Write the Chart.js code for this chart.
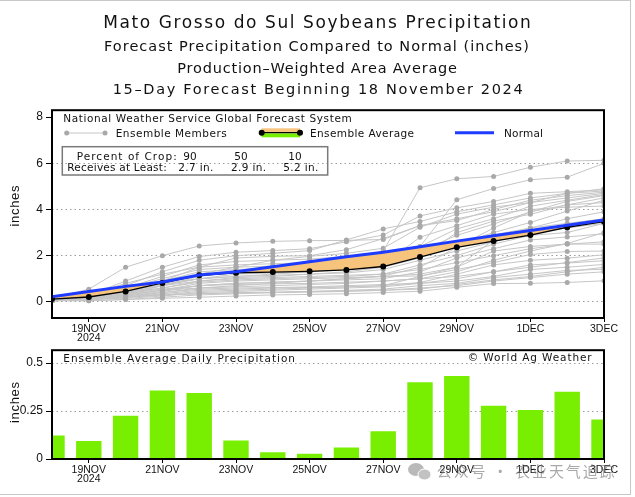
<!DOCTYPE html>
<html><head><meta charset="utf-8">
<script src="https://cdn.jsdelivr.net/npm/chart.js@4.4.1/dist/chart.umd.min.js"></script>
<style>
html,body{margin:0;padding:0;background:#fff;}
#wrap{position:relative;width:635px;height:497px;overflow:hidden;background:#fff;}
#topc{position:absolute;left:0;top:100px;}
#botc{position:absolute;left:0;top:340px;}
#ov{position:absolute;left:0;top:0;}
#edge{position:absolute;left:-3px;top:0;width:634px;height:495px;border:1.5px solid #c8c8c8;box-sizing:border-box;}
</style></head>
<body>
<div id="wrap">
<div id="edge"></div>
<canvas id="topc" width="635" height="246" style="width:635px;height:246px"></canvas>
<canvas id="botc" width="635" height="157" style="width:635px;height:157px"></canvas>
<svg id="ov" width="635" height="497" xmlns="http://www.w3.org/2000/svg">
 <g font-family="DejaVu Sans, sans-serif" fill="#111">
  <text x="103.3" y="27.7" font-size="17" textLength="427.5" lengthAdjust="spacing">Mato Grosso do Sul Soybeans Precipitation</text>
  <text x="104" y="51" font-size="14.5" textLength="424.8" lengthAdjust="spacing">Forecast Precipitation Compared to Normal (inches)</text>
  <text x="177.3" y="73.3" font-size="14.5" textLength="279.7" lengthAdjust="spacing">Production–Weighted Area Average</text>
  <text x="112.7" y="94.3" font-size="14.5" textLength="410" lengthAdjust="spacing">15–Day Forecast Beginning 18 November 2024</text>

  <text x="63.3" y="121.7" font-size="10.5" textLength="288.4" lengthAdjust="spacing">National Weather Service Global Forecast System</text>
  <text x="115.7" y="136.7" font-size="10.5" textLength="111" lengthAdjust="spacing">Ensemble Members</text>
  <text x="310" y="136.7" font-size="10.5" textLength="104" lengthAdjust="spacing">Ensemble Average</text>
  <text x="504" y="136.7" font-size="10.5" textLength="39" lengthAdjust="spacing">Normal</text>

  <text x="76.7" y="160" font-size="10.5" textLength="100" lengthAdjust="spacing">Percent of Crop:</text>
  <text x="190" y="160" font-size="10.5" text-anchor="middle">90</text>
  <text x="241" y="160" font-size="10.5" text-anchor="middle">50</text>
  <text x="295" y="160" font-size="10.5" text-anchor="middle">10</text>
  <text x="67.3" y="171" font-size="10.5" textLength="99.4" lengthAdjust="spacing">Receives at Least:</text>
  <text x="178.3" y="171" font-size="10.5" textLength="35" lengthAdjust="spacing">2.7 in.</text>
  <text x="231" y="171" font-size="10.5" textLength="35" lengthAdjust="spacing">2.9 in.</text>
  <text x="283.3" y="171" font-size="10.5" textLength="35" lengthAdjust="spacing">5.2 in.</text>

  <text x="63.3" y="361.7" font-size="10.5" textLength="231.7" lengthAdjust="spacing">Ensemble Average Daily Precipitation</text>
  <text x="467.7" y="360.7" font-size="10.5" textLength="124" lengthAdjust="spacing">© World Ag Weather</text>
 </g>
 <g font-family="Liberation Sans, Arial, sans-serif" fill="#111" font-size="13">
  <text transform="translate(18.5,206) rotate(-90)" text-anchor="middle" textLength="41" lengthAdjust="spacing">inches</text>
  <text transform="translate(18.5,402.5) rotate(-90)" text-anchor="middle" textLength="41" lengthAdjust="spacing">inches</text>
 </g>
 <!-- legend graphics -->
 <line x1="66.7" y1="133" x2="105" y2="133" stroke="#c6c6c6" stroke-width="1"/>
 <circle cx="66.7" cy="133" r="2.5" fill="#a9a9a9"/>
 <circle cx="105" cy="133" r="2.5" fill="#a9a9a9"/>
 <rect x="261.7" y="128.3" width="38.3" height="3.8" fill="#f6c47c"/>
 <rect x="261.7" y="133.4" width="38.3" height="3.9" fill="#76ee00"/>
 <line x1="261.7" y1="132.7" x2="300" y2="132.7" stroke="#000" stroke-width="1.3"/>
 <circle cx="261.7" cy="132.7" r="3" fill="#000"/>
 <circle cx="300" cy="132.7" r="3" fill="#000"/>
 <line x1="455" y1="132.7" x2="494" y2="132.7" stroke="#1e3cff" stroke-width="3"/>
 <rect x="62.3" y="146.7" width="265.4" height="28.3" fill="none" stroke="#7a7a7a" stroke-width="1.5"/>
 <!-- watermark -->
 <g opacity="0.6">
  <ellipse cx="416" cy="469.5" rx="8" ry="6.5" fill="#8a8a8a"/>
  <ellipse cx="424.5" cy="474.5" rx="6.5" ry="5.5" fill="#9a9a9a" stroke="#fff" stroke-width="1"/>
  <text x="436.7" y="477" font-family="Noto Sans CJK SC, sans-serif" font-size="15" fill="#707070" textLength="178" lengthAdjust="spacing">公众号 · 农业天气追踪</text>
 </g>
</svg>
</div>
<script>
// ---- data ----
const dayIndex = [0,1,2,3,4,5,6,7,8,9,10,11,12,13,14,15];
const dates = ['18NOV','19NOV','20NOV','21NOV','22NOV','23NOV','24NOV','25NOV','26NOV','27NOV','28NOV','29NOV','30NOV','1DEC','2DEC','3DEC'];
const xTickDays = [1,3,5,7,9,11,13,15];
const xTickLabels = [['19NOV','2024'],'21NOV','23NOV','25NOV','27NOV','29NOV','1DEC','3DEC'];
const yTicksTop = [0,2,4,6,8];
const yTickLabelsTop = ['0','2','4','6','8'];
const yTicksBottom = [0,0.25,0.5];
const yTickLabelsBottom = ['0','0.25','0.5'];

const normalCum = [0.22,0.45,0.67,0.86,1.16,1.3,1.52,1.74,1.95,2.15,2.39,2.63,2.86,3.09,3.32,3.55];
const ensembleAvgCum = [0.12,0.21,0.45,0.82,1.15,1.26,1.29,1.32,1.38,1.53,1.94,2.36,2.63,2.89,3.23,3.48];
const dailyAvg = [0.123,0.094,0.226,0.357,0.344,0.096,0.035,0.027,0.06,0.144,0.40,0.433,0.277,0.255,0.351,0.206];

const ensembleMembers = [
 [0.15,0.55,1.5,2.0,2.42,2.55,2.62,2.65,2.66,2.7,3.3,3.6,3.9,4.3,4.7,4.9],
 [0.1,0.3,0.8,1.2,1.5,1.6,1.65,1.7,1.75,2.2,4.94,5.33,5.43,5.83,6.1,6.13],
 [0.1,0.2,0.6,1.0,1.4,1.5,1.55,1.6,1.65,1.7,2.4,4.42,4.91,5.29,5.4,6.0],
 [0.1,0.3,0.9,1.5,1.96,2.15,2.22,2.3,2.6,2.89,3.72,4.07,4.35,4.7,4.77,4.85],
 [0.1,0.25,0.7,1.3,1.8,2.0,2.1,2.22,2.68,3.16,3.48,3.9,4.2,4.5,4.7,4.8],
 [0.05,0.2,0.5,0.9,1.5,1.9,1.97,2.0,2.26,2.74,3.3,3.52,4.0,4.4,4.6,4.75],
 [0.1,0.15,0.4,0.8,1.2,1.5,1.8,1.97,2.1,2.32,3.23,3.8,4.1,4.3,4.5,4.7],
 [0.05,0.1,0.3,0.7,1.1,1.3,1.5,1.7,1.84,2.1,2.39,3.16,3.6,4.14,4.4,4.65],
 [0.1,0.2,0.5,0.8,1.0,1.1,1.2,1.3,1.5,1.8,2.2,2.88,3.37,3.9,4.35,4.6],
 [0.05,0.15,0.4,0.7,0.9,1.05,1.1,1.2,1.3,1.5,1.9,3.0,3.5,3.79,4.2,4.5],
 [0.1,0.25,0.6,1.1,1.6,1.75,1.8,1.85,1.97,2.0,2.1,2.47,3.0,3.44,3.93,4.4],
 [0.05,0.1,0.2,0.4,0.6,0.7,0.8,0.9,1.0,1.12,1.5,2.36,3.2,3.9,4.2,4.3],
 [0.1,0.2,0.45,0.75,1.0,1.2,1.25,1.3,1.4,1.6,2.8,3.3,3.8,4.0,4.1,4.15],
 [0.05,0.1,0.3,0.5,0.7,0.8,0.85,0.9,1.0,1.1,1.2,1.5,2.68,3.2,3.6,3.9],
 [0.1,0.2,0.5,0.9,1.3,1.4,1.45,1.5,1.6,1.7,2.0,2.5,2.9,3.2,3.4,3.6],
 [0.05,0.15,0.35,0.6,0.85,0.95,1.0,1.05,1.1,1.2,1.6,2.0,2.5,2.88,3.0,3.4],
 [0.1,0.15,0.3,0.5,0.6,0.65,0.7,0.75,0.8,0.9,1.0,1.3,1.8,2.2,2.53,3.0],
 [0.05,0.1,0.25,0.45,0.7,0.8,0.85,0.9,0.95,1.0,1.3,1.9,2.3,2.68,2.81,2.95],
 [0.1,0.2,0.4,0.6,0.9,1.0,1.05,1.1,1.15,1.2,1.4,1.7,2.0,2.3,2.5,2.6],
 [0.05,0.1,0.2,0.3,0.45,0.5,0.55,0.6,0.65,0.7,1.1,1.5,2.2,2.4,2.5,2.5],
 [0.1,0.15,0.3,0.5,0.8,0.9,0.95,1.0,1.05,1.1,1.12,1.4,1.7,2.05,2.18,2.2],
 [0.05,0.1,0.2,0.35,0.5,0.55,0.6,0.62,0.65,0.7,0.84,1.2,1.6,1.8,1.89,2.04],
 [0.05,0.1,0.15,0.25,0.4,0.45,0.5,0.55,0.6,0.65,0.8,1.0,1.3,1.6,1.68,1.78],
 [0.1,0.15,0.25,0.4,0.55,0.6,0.62,0.65,0.7,0.75,0.8,0.9,1.1,1.4,1.5,1.62],
 [0.05,0.05,0.1,0.2,0.3,0.35,0.4,0.45,0.5,0.55,0.7,0.8,1.05,1.2,1.36,1.41],
 [0.05,0.1,0.2,0.3,0.35,0.4,0.42,0.45,0.47,0.5,0.6,0.7,0.9,1.05,1.2,1.3],
 [0.05,0.05,0.1,0.15,0.2,0.25,0.3,0.32,0.35,0.4,0.46,0.63,0.79,0.8,0.84,0.91],
 [0.1,0.2,0.35,0.55,0.7,0.75,0.78,0.8,0.85,0.9,1.0,1.1,1.3,1.5,1.7,1.9],
 [0.05,0.1,0.2,0.3,0.35,0.38,0.4,0.42,0.45,0.5,0.55,0.75,0.95,1.1,1.3,1.5],
 [0.1,0.2,0.4,0.7,1.0,1.1,1.15,1.2,1.25,1.4,1.8,2.2,2.6,3.0,3.2,3.4]
];

// ---- styling / chart building ----
const tickFont = {family:'Liberation Sans, Arial, sans-serif', size:12};
const dateFont = {family:'Liberation Sans, Arial, sans-serif', size:10.5, lineHeight:0.9};
const toXY = arr => dayIndex.map((d,i)=>({x:d, y:arr[i]}));

const framePlugin = {
  id:'frame',
  afterDraw(chart){
    const {ctx, chartArea:a} = chart;
    ctx.save(); ctx.strokeStyle='#000'; ctx.lineWidth=2;
    ctx.strokeRect(a.left, a.top, a.right-a.left, a.bottom-a.top);
    ctx.restore();
  }
};

const xAxis = (h) => ({
  type:'linear', min:0, max:15, offset:false,
  afterBuildTicks: s => { s.ticks = xTickDays.map(v=>({value:v})); },
  afterFit: s => { s.height = h; },
  ticks:{ callback:(v,i)=>xTickLabels[i], maxRotation:0, autoSkip:false, font:dateFont, color:'#111', padding:2 },
  grid:{ offset:false, drawOnChartArea:false, drawTicks:true, tickLength:4, tickColor:'#000', tickWidth:1 },
  border:{ display:false }
});

new Chart(document.getElementById('topc'), {
  type:'line',
  data:{ datasets:[
    { label:'Normal', data:toXY(normalCum), borderColor:'#1e3cff', borderWidth:3, pointRadius:0, order:0, fill:false },
    { label:'Ensemble Average', data:toXY(ensembleAvgCum), borderColor:'#000', borderWidth:1.3, pointRadius:3,
      pointBackgroundColor:'#000', pointBorderWidth:0, order:1,
      fill:{ target:0, above:'#76ee00', below:'#f6c47c' } },
    ...ensembleMembers.map((m,k)=>({ label:'Member '+(k+1), data:toXY(m), borderColor:'#c6c6c6', borderWidth:1,
      pointRadius:2.5, pointBackgroundColor:'#a9a9a9', pointBorderWidth:0, order:2, fill:false }))
  ]},
  options:{
    responsive:false, animation:false, devicePixelRatio:1,
    layout:{ padding:{ top:5, right:31, left:0, bottom:0 } },
    elements:{ line:{ tension:0 } },
    plugins:{ legend:{display:false}, tooltip:{enabled:false} },
    scales:{
      x: xAxis(28),
      y:{ min:-0.7, max:8.3,
        afterBuildTicks: s => { s.ticks = yTicksTop.map(v=>({value:v})); },
        afterFit: s => { s.width = 52; },
        ticks:{ callback:(v,i)=>yTickLabelsTop[i], font:tickFont, color:'#111', padding:3 },
        grid:{ color: c => (c.tick && c.tick.value===8) ? 'rgba(0,0,0,0)' : '#9c9c9c', lineWidth:1,
               drawTicks:true, tickLength:6, tickColor:'#000', tickWidth:1, tickBorderDash:[] },
        border:{ display:false, dash:[1.5,3] } }
    }
  },
  plugins:[framePlugin]
});

new Chart(document.getElementById('botc'), {
  type:'bar',
  data:{ datasets:[
    { label:'Ensemble Average Daily Precipitation', data:toXY(dailyAvg), backgroundColor:'#78ee00',
      borderWidth:0, barPercentage:0.69, categoryPercentage:1 }
  ]},
  options:{
    responsive:false, animation:false, devicePixelRatio:1,
    layout:{ padding:{ top:6, right:31, left:0, bottom:0 } },
    plugins:{ legend:{display:false}, tooltip:{enabled:false} },
    scales:{
      x: xAxis(38),
      y:{ min:0, max:0.567,
        afterBuildTicks: s => { s.ticks = yTicksBottom.map(v=>({value:v})); },
        afterFit: s => { s.width = 52; },
        ticks:{ callback:(v,i)=>yTickLabelsBottom[i], font:tickFont, color:'#111', padding:3 },
        grid:{ color: c => (c.tick && c.tick.value===0) ? 'rgba(0,0,0,0)' : '#9c9c9c', lineWidth:1,
               drawTicks:true, tickLength:6, tickColor:'#000', tickWidth:1, tickBorderDash:[] },
        border:{ display:false, dash:[1.5,3] } }
    }
  },
  plugins:[framePlugin]
});
</script>
</body></html>
